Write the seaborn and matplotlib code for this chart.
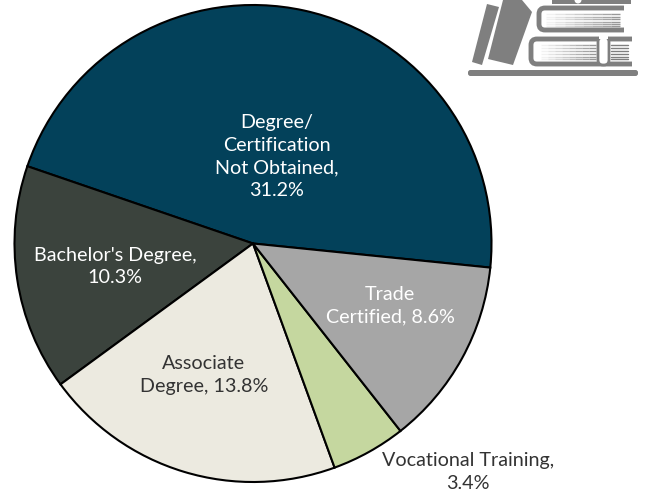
import matplotlib
matplotlib.use("Agg")
import matplotlib.pyplot as plt
from matplotlib.patches import FancyBboxPatch, Polygon, Rectangle, Circle
import seaborn as sns

sns.set_theme(style="white")
plt.rcParams["font.family"] = ["Lato", "DejaVu Sans"]

# Slices in drawing order
categories = ["Degree/\nCertification\nNot Obtained,\n", "Bachelor's Degree,\n", "Associate\nDegree, ",
              "Vocational Training,\n", "Trade\nCertified, "]
shares = [31.2, 10.3, 13.8, 3.4, 8.6]
colors = ["#03415A", "#3B433D", "#ECEAE0", "#C5D79F", "#A6A6A6"]
text_colors = ["white", "white", "#333333", "#333333", "white"]
label_xy = [(277, 156.5), (115, 266.5), (204, 375), (468, 472), (390, 305.5)]

fig = plt.figure(figsize=(6.49, 4.92), dpi=100)

# pie axes, in pixels centre 253,243.5 radius 238.5
ax = fig.add_axes([14.5 / 649, (492 - 482) / 492, 477 / 649, 477 / 492])
ax.pie(shares, colors=colors, startangle=-5.8, radius=1,
       wedgeprops={"edgecolor": "black", "linewidth": 1.5})
ax.set_xlim(-1, 1)
ax.set_ylim(-1, 1)

# overlay in pixel coordinates for the labels and the book icon
over = fig.add_axes([0, 0, 1, 1])
over.set_xlim(0, 649)
over.set_ylim(492, 0)
over.axis("off")
over.patch.set_alpha(0)

for name, val, (x, y), c in zip(categories, shares, label_xy, text_colors):
    over.text(x, y, f"{name}{val}%", ha="center", va="center", color=c,
              fontsize=14.2, linespacing=1.4)


def page_lines(x0, x1, ys):
    # page edges, fading out towards the spine
    steps = 8
    for y in ys:
        for i in range(steps):
            xa = x0 + (x1 - x0) * i / steps
            xb = x0 + (x1 - x0) * (i + 1) / steps
            over.plot([xa, xb], [y, y], color=g, lw=1, alpha=(i + 1) / steps * 0.8, solid_capstyle="butt")


g = "#7F7F7F"
# shelf and the two leaning books
over.add_patch(FancyBboxPatch((468, 70), 170, 6, boxstyle="round,pad=0,rounding_size=2.5", fc=g, ec="none"))
over.add_patch(Polygon([(487, 4), (499, 7), (482, 65), (472, 62)], fc=g, ec="none"))
over.add_patch(Polygon([(503, 0), (522, 0), (532, 12), (513, 65), (488, 59)], fc=g, ec="none"))
# top book
over.add_patch(Rectangle((552, 0), 79, 4, fc=g, ec="none"))
over.add_patch(Circle((578, 0), 3.5, fc="white", ec="none"))
# middle book
over.add_patch(FancyBboxPatch((539, 8), 90, 22, boxstyle="round,pad=0,rounding_size=6", fc="white", ec=g, lw=3.5))
over.add_patch(Rectangle((624, 4), 12, 30, fc="white", ec="none"))
page_lines(546, 620, [14, 16.5, 19, 21.5, 24, 26])
# bottom book
over.add_patch(FancyBboxPatch((531, 39), 108, 25, boxstyle="round,pad=0,rounding_size=6", fc="white", ec=g, lw=3.5))
over.add_patch(Rectangle((632, 35), 12, 33, fc="white", ec="none"))
page_lines(541, 596, [45, 48, 51, 54, 57, 59])
for y in [45, 48, 51, 54, 57, 59]:
    over.plot([611, 628], [y, y], color=g, lw=1)
over.add_patch(FancyBboxPatch((598, 37), 11, 28, boxstyle="round,pad=0,rounding_size=5", fc="white", ec=g, lw=2))
over.add_patch(Rectangle((599, 35), 9, 3.5, fc="white", ec="none"))

fig.savefig("out.png", dpi=100, facecolor="white")
